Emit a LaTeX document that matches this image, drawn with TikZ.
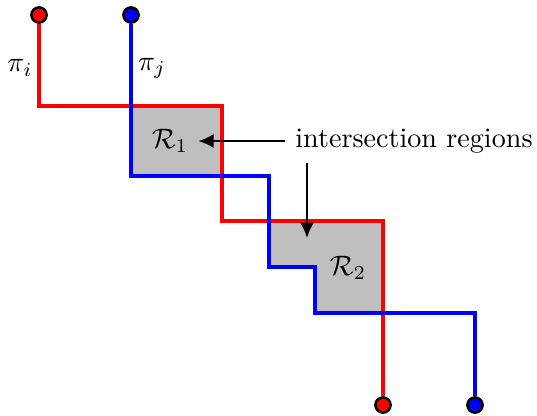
\documentclass[tikz,border=0pt]{standalone}
\usepackage{amsmath,amssymb}
\usepackage{tikz}
\usetikzlibrary{arrows.meta}

\tikzset{
    pathline/.style={line width=1.1pt},
    enddot/.style={circle, draw=black, line width=0.9pt, inner sep=0pt, minimum size=5.4pt},
    arr/.style={-{Latex[length=5.5pt,width=5pt]}, line width=0.8pt},
    region/.style={fill=gray!50}
}

\begin{document}
\begin{tikzpicture}[x=0.0125cm, y=-0.0125cm]
    \useasboundingbox (0,0) rectangle (537,415);
    % intersection regions
    \fill[region] (131,106) rectangle (222,176);
    \fill[region] (269,221) -- (383,221) -- (383,313) -- (315,313) -- (315,267) -- (269,267) -- cycle;
    % end points of the two paths
    \node[enddot, fill=red] (ri) at (39,15) {};
    \node[enddot, fill=red] (ro) at (383,405) {};
    \node[enddot, fill=blue] (bi) at (131,15) {};
    \node[enddot, fill=blue] (bo) at (475,405) {};
    % the two paths
    \draw[pathline, red] (ri) |- (222,106) |- (383,221) -- (ro);
    \draw[pathline, blue] (bi) |- (269,176) |- (315,267) |- (475,313) -- (bo);
    \node (pii) at (20,68) {$\pi_i$};
    \node (pij) at (152,68) {$\pi_j$};
    \node (r1) at (170,141) {$\mathcal{R}_1$};
    \node (r2) at (348,268) {$\mathcal{R}_2$};
    \node (lab) at (414,141) {intersection regions};
    \coordinate (tipb) at (307,238);
    \draw[arr] (lab) -- (r1);
    \draw[arr] (lab.south -| tipb) -- (tipb);
\end{tikzpicture}
\end{document}
